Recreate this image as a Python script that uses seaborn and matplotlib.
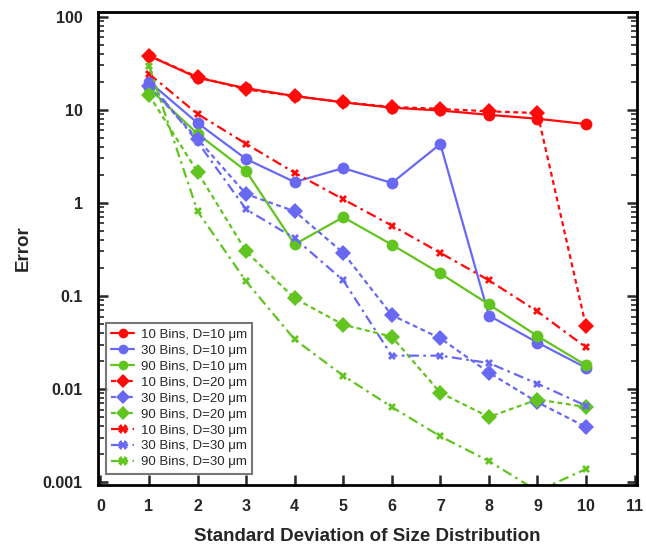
import numpy as np
import pandas as pd
import matplotlib
matplotlib.use("Agg")
import matplotlib.pyplot as plt
import seaborn as sns
from matplotlib.ticker import LogLocator, NullFormatter, FixedLocator

sns.set_theme(style="white")
plt.rcParams['font.family'] = ['Liberation Sans', 'DejaVu Sans']

x = [1, 2, 3, 4, 5, 6, 7, 8, 9, 10]

b10_d10 = [38, 22, 17, 14, 12, 10.5, 9.8, 8.8, 8.0, 7.0]
b30_d10 = [20, 7.2, 2.95, 1.67, 2.36, 1.63, 4.28, 0.0615, 0.0315, 0.0169]
b90_d10 = [17, 5.5, 2.19, 0.358, 0.70, 0.355, 0.174, 0.081, 0.037, 0.018]
b10_d20 = [38, 22.5, 16.5, 14, 12, 10.7, 10.2, 9.6, 9.2, 0.047]
b30_d20 = [18, 4.85, 1.24, 0.81, 0.29, 0.062, 0.035, 0.015, 0.0072, 0.0039]
b90_d20 = [14.4, 2.14, 0.30, 0.094, 0.049, 0.0365, 0.0091, 0.005, 0.0077, 0.0064]
b10_d30 = [24.3, 9.0, 4.3, 2.1, 1.09, 0.57, 0.29, 0.147, 0.068, 0.028]
b30_d30 = [20, 4.5, 0.85, 0.416, 0.147, 0.0228, 0.0228, 0.019, 0.0114, 0.0066]
b90_d30 = [29.6, 0.81, 0.143, 0.034, 0.0139, 0.0064, 0.0031, 0.00168, 0.0008, 0.00138]

labels = ["10 Bins, D=10 \u03bcm", "30 Bins, D=10 \u03bcm", "90 Bins, D=10 \u03bcm",
          "10 Bins, D=20 \u03bcm", "30 Bins, D=20 \u03bcm", "90 Bins, D=20 \u03bcm",
          "10 Bins, D=30 \u03bcm", "30 Bins, D=30 \u03bcm", "90 Bins, D=30 \u03bcm"]
series = [b10_d10, b30_d10, b90_d10, b10_d20, b30_d20, b90_d20, b10_d30, b30_d30, b90_d30]

red = "#ff0a0a"
blue = "#6868f2"
green = "#62c41e"
colors = [red, blue, green] * 3
styles = ["-"] * 3 + [(0, (2.2, 1.6))] * 3 + [(0, (4.5, 2.0, 1.2, 2.0))] * 3
markers = ["o"] * 3 + ["D"] * 3 + ["X"] * 3
msizes = [8.5] * 3 + [8] * 3 + [6] * 3

fig = plt.figure(figsize=(6.46, 5.48), dpi=100)
ax = fig.add_axes([98 / 646, 1 - 485 / 548, (637 - 98) / 646, (485 - 12) / 548])

for s, lab, c, ls, mk, ms in zip(series, labels, colors, styles, markers, msizes):
    df = pd.DataFrame({"x": x, "y": s})
    sns.lineplot(data=df, x="x", y="y", ax=ax, color=c, linestyle=ls, marker=mk,
                 markersize=ms, markeredgewidth=0, linewidth=1.6, label=lab)

ax.set_yscale("log")
ax.set_xlim(-0.05, 11.05)
ax.set_ylim(0.00093, 112)
ax.xaxis.set_major_locator(FixedLocator(range(0, 12)))
ax.yaxis.set_major_locator(FixedLocator([0.001, 0.01, 0.1, 1, 10, 100]))
ax.set_yticklabels(["0.001", "0.01", "0.1", "1", "10", "100"])
ax.yaxis.set_minor_locator(LogLocator(base=10, subs=np.arange(2, 10), numticks=20))
ax.yaxis.set_minor_formatter(NullFormatter())

ax.tick_params(axis="both", which="major", direction="in", length=7, width=1.8,
               left=True, right=True, bottom=True, top=False, labelsize=11.5)
ax.tick_params(axis="x", which="major", pad=10)
ax.tick_params(axis="y", which="major", pad=11)
ax.tick_params(axis="y", which="minor", direction="in", length=4, width=1.2,
               left=True, right=True)
for lbl in ax.get_xticklabels() + ax.get_yticklabels():
    lbl.set_fontweight("bold")
for sp in ax.spines.values():
    sp.set_linewidth(2)
    sp.set_color("black")

ax.set_xlabel("Standard Deviation of Size Distribution", fontsize=13.5, fontweight="bold", labelpad=10)
ax.set_ylabel("Error", fontsize=13.5, fontweight="bold", labelpad=8)

leg = ax.legend(loc="lower left", fontsize=9.5, handlelength=1.7, handletextpad=0.5,
                borderpad=0.4, labelspacing=0.28, frameon=True, fancybox=False,
                bbox_to_anchor=(0.003, 0.01))
leg.get_frame().set_edgecolor("#555555")
leg.get_frame().set_linewidth(1.5)
for h in leg.legend_handles:
    h.set_markersize(7)

fig.savefig("out.png", dpi=100)
